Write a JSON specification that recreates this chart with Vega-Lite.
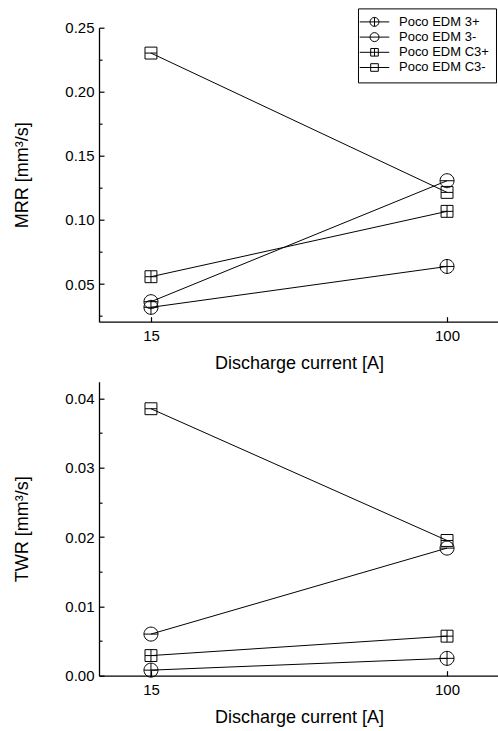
{
  "$schema": "https://vega.github.io/schema/vega-lite/v6.json",
  "background": "white",
  "padding": {"left": 13, "top": 7.7, "right": 0, "bottom": 2},
  "spacing": 9,
  "config": {
    "font": "Liberation Sans",
    "view": {"stroke": null},
    "axis": {
      "labelFont": "Liberation Sans",
      "titleFont": "Liberation Sans",
      "labelFontSize": 15,
      "titleFontSize": 18,
      "titleFontWeight": "normal",
      "labelColor": "black",
      "titleColor": "black",
      "domainColor": "black",
      "tickColor": "black",
      "domainWidth": 1.3,
      "tickWidth": 1.2,
      "grid": false
    }
  },
  "resolve": {"scale": {"shape": "independent"}, "legend": {"shape": "independent"}},
  "data": {
    "values": [
      {"current": "15", "series": "Poco EDM 3+", "MRR": 0.0318, "TWR": 0.0008},
      {"current": "100", "series": "Poco EDM 3+", "MRR": 0.0637, "TWR": 0.0025},
      {"current": "15", "series": "Poco EDM 3-", "MRR": 0.0362, "TWR": 0.0060},
      {"current": "100", "series": "Poco EDM 3-", "MRR": 0.1306, "TWR": 0.0184},
      {"current": "15", "series": "Poco EDM C3+", "MRR": 0.0557, "TWR": 0.0029},
      {"current": "100", "series": "Poco EDM C3+", "MRR": 0.1067, "TWR": 0.0057},
      {"current": "15", "series": "Poco EDM C3-", "MRR": 0.2302, "TWR": 0.0385},
      {"current": "100", "series": "Poco EDM C3-", "MRR": 0.1215, "TWR": 0.0195}
    ]
  },
  "vconcat": [
    {
      "width": 400,
      "height": 294,
      "resolve": {"scale": {"shape": "independent"}, "legend": {"shape": "independent"}},
      "encoding": {
        "x": {
          "field": "current", "type": "ordinal", "sort": ["15", "100"],
          "scale": {"type": "point", "padding": 0.1755},
          "axis": {"title": "Discharge current [A]", "labelAngle": 0, "tickSize": -5, "labelPadding": 12, "titlePadding": 11}
        },
        "y": {
          "field": "MRR", "type": "quantitative",
          "scale": {"domain": [0.0206, 0.25], "nice": false, "zero": false},
          "axis": {
            "title": "MRR [mm³/s]",
            "values": [0.025, 0.05, 0.075, 0.1, 0.125, 0.15, 0.175, 0.2, 0.225, 0.25],
            "labelExpr": "round(datum.value*1000) % 50 === 0 ? format(datum.value, '.2f') : ''",
            "tickSize": {"condition": {"test": "round(datum.value*1000) % 50 !== 0", "value": -3}, "value": -5},
            "labelPadding": 10,
            "titlePadding": 33
          }
        }
      },
      "layer": [
        {
          "mark": {"type": "line", "color": "black", "strokeWidth": 1},
          "encoding": {"detail": {"field": "series"}}
        },
        {
          "mark": {"type": "point", "filled": false, "color": "black", "strokeWidth": 1, "size": 196, "opacity": 1},
          "encoding": {
            "shape": {
              "field": "series", "type": "nominal",
              "scale": {
                "domain": ["Poco EDM 3+", "Poco EDM 3-", "Poco EDM C3+", "Poco EDM C3-"],
                "range": [
                  "M-1,0A1,1 0 1,1 1,0A1,1 0 1,1 -1,0ZM-1,0H1M0,-1V1",
                  "M-1,0A1,1 0 1,1 1,0A1,1 0 1,1 -1,0ZM-1,0H1",
                  "M-0.85,-0.85H0.85V0.85H-0.85ZM-0.85,0H0.85M0,-0.85V0.85",
                  "M-0.85,-0.85H0.85V0.85H-0.85ZM-0.85,0H0.85"
                ]
              },
              "legend": null
            }
          }
        },
        {
          "mark": {"type": "point", "filled": false, "color": "black", "strokeWidth": 1, "size": 196, "opacity": 0},
          "encoding": {
            "shape": {
              "field": "series", "type": "nominal",
              "scale": {
                "domain": ["Poco EDM 3+", "Poco EDM 3-", "Poco EDM C3+", "Poco EDM C3-"],
                "range": [
                  "M-1,0A1,1 0 1,1 1,0A1,1 0 1,1 -1,0ZM-3.3,0H3.3M0,-1V1",
                  "M-1,0A1,1 0 1,1 1,0A1,1 0 1,1 -1,0ZM-3.3,0H3.3",
                  "M-0.85,-0.85H0.85V0.85H-0.85ZM-3.3,0H3.3M0,-0.85V0.85",
                  "M-0.85,-0.85H0.85V0.85H-0.85ZM-3.3,0H3.3"
                ]
              },
              "legend": {
                "orient": "none",
                "legendX": 259,
                "legendY": -19.3,
                "title": null,
                "strokeColor": "black",
                "fillColor": "white",
                "padding": 7,
                "labelFont": "Liberation Sans",
                "labelFontSize": 13,
                "labelColor": "black",
                "symbolSize": 80,
                "symbolOffset": 3,
                "labelOffset": 18,
                "rowPadding": 1.2,
                "symbolOpacity": 1,
                "symbolStrokeWidth": 1,
                "symbolStrokeColor": "black",
                "symbolFillColor": "transparent",
                "labelExpr": "datum.label + '\u00a0\u00a0\u00a0\u00a0\u00a0'",
                "encode": {
                  "symbols": {
                    "opacity": {"value": 1},
                    "stroke": {"value": "black"},
                    "fill": {"value": "transparent"},
                    "strokeWidth": {"value": 1}
                  }
                }
              }
            }
          }
        }
      ]
    },
    {
      "width": 400,
      "height": 294,
      "encoding": {
        "x": {
          "field": "current", "type": "ordinal", "sort": ["15", "100"],
          "scale": {"type": "point", "padding": 0.1755},
          "axis": {"title": "Discharge current [A]", "labelAngle": 0, "tickSize": -5, "labelPadding": 12, "titlePadding": 11}
        },
        "y": {
          "field": "TWR", "type": "quantitative",
          "scale": {"domain": [0, 0.0424], "nice": false, "zero": false},
          "axis": {
            "title": "TWR [mm³/s]",
            "values": [0, 0.005, 0.01, 0.015, 0.02, 0.025, 0.03, 0.035, 0.04],
            "labelExpr": "round(datum.value*1000) % 10 === 0 ? format(datum.value, '.2f') : ''",
            "tickSize": {"condition": {"test": "round(datum.value*1000) % 10 !== 0", "value": -3}, "value": -5},
            "labelPadding": 10,
            "titlePadding": 33
          }
        }
      },
      "layer": [
        {
          "mark": {"type": "line", "color": "black", "strokeWidth": 1},
          "encoding": {"detail": {"field": "series"}}
        },
        {
          "mark": {"type": "point", "filled": false, "color": "black", "strokeWidth": 1, "size": 196, "opacity": 1},
          "encoding": {
            "shape": {
              "field": "series", "type": "nominal",
              "scale": {
                "domain": ["Poco EDM 3+", "Poco EDM 3-", "Poco EDM C3+", "Poco EDM C3-"],
                "range": [
                  "M-1,0A1,1 0 1,1 1,0A1,1 0 1,1 -1,0ZM-1,0H1M0,-1V1",
                  "M-1,0A1,1 0 1,1 1,0A1,1 0 1,1 -1,0ZM-1,0H1",
                  "M-0.85,-0.85H0.85V0.85H-0.85ZM-0.85,0H0.85M0,-0.85V0.85",
                  "M-0.85,-0.85H0.85V0.85H-0.85ZM-0.85,0H0.85"
                ]
              },
              "legend": null
            }
          }
        }
      ]
    }
  ]
}
